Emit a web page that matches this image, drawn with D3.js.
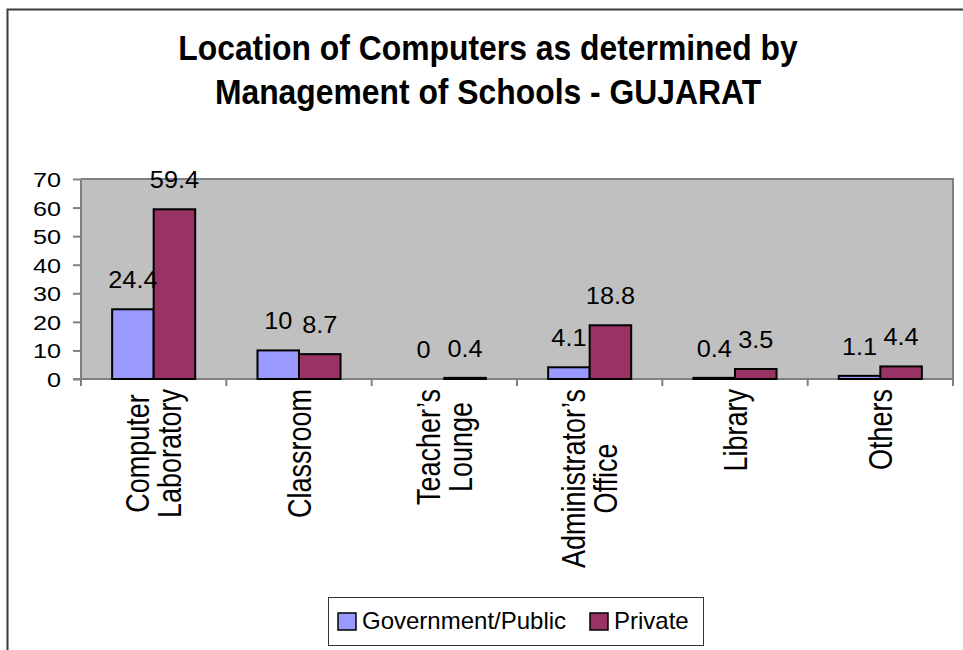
<!DOCTYPE html>
<html>
<head>
<meta charset="utf-8">
<script src="https://cdn.jsdelivr.net/npm/d3@7"></script>
<style>
  html, body { margin: 0; padding: 0; background: #fff; }
  svg { display: block; }
  text { font-family: "Liberation Sans", Arial, sans-serif; fill: #000; }
</style>
</head>
<body>
<svg id="chart" width="963" height="650"></svg>
<script>
// Chart data
const titleLines = ["Location of Computers as determined by", "Management of Schools - GUJARAT"];
const categories = ["Computer Laboratory", "Classroom", "Teacher\u2019s Lounge", "Administrator\u2019s Office", "Library", "Others"];
const categoryLines = [["Computer", "Laboratory"], ["Classroom"], ["Teacher\u2019s", "Lounge"], ["Administrator\u2019s", "Office"], ["Library"], ["Others"]];
const seriesNames = ["Government/Public", "Private"];
const governmentValues = [24.4, 10, 0, 4.1, 0.4, 1.1];
const privateValues = [59.4, 8.7, 0.4, 18.8, 3.5, 4.4];
const yTicks = [0, 10, 20, 30, 40, 50, 60, 70];
const seriesColors = ["#9999ff", "#993366"];

const seriesValues = [governmentValues, privateValues];
const rows = categories.map((c, i) => ({ cat: c, values: seriesValues.map((s, j) => ({ key: seriesNames[j], idx: j, v: s[i] })) }));

// Body text is drawn slightly wide, the title slightly narrow
const wide = 1.2;

const svg = d3.select("#chart");

// Outer chart frame (runs past the page edge on the right and bottom)
svg.append("rect")
  .attr("x", 7.5).attr("y", 9.5).attr("width", 1100).attr("height", 800)
  .attr("fill", "#fff").attr("stroke", "#3a3a3a").attr("stroke-width", 2);

// Title
const titleCx = 488, titleSx = 0.885;
titleLines.forEach((t, i) => {
  svg.append("text")
    .attr("text-anchor", "middle")
    .attr("transform", `translate(${titleCx},${60 + i * 44}) scale(${titleSx},1)`)
    .style("font-weight", "bold").style("font-size", "36px")
    .text(t);
});

const plot = { left: 81, right: 953, top: 179, bottom: 379 };

const x0 = d3.scaleBand().domain(categories).range([plot.left, plot.right]).paddingInner(0).paddingOuter(0);
const x1 = d3.scaleBand().domain(seriesNames).range([0, x0.bandwidth()]).paddingInner(0).paddingOuter(0.75);
const y = d3.scaleLinear().domain([0, 70]).range([plot.bottom, plot.top]);

// Plot area
svg.append("rect")
  .attr("x", plot.left).attr("y", plot.top)
  .attr("width", plot.right - plot.left).attr("height", plot.bottom - plot.top)
  .attr("fill", "#c0c0c0");
svg.append("path")
  .attr("d", `M${plot.left},${plot.top}H${plot.right}V${plot.bottom}`)
  .attr("fill", "none").attr("stroke", "#808080").attr("stroke-width", 2);

// Y axis
const yAxis = svg.append("g")
  .attr("transform", `translate(${plot.left},0)`)
  .call(d3.axisLeft(y).tickValues(yTicks).tickSize(8).tickPadding(12).tickSizeOuter(0));
yAxis.select(".domain").attr("stroke", "#808080").attr("stroke-width", 2)
  .attr("d", `M0,${plot.top}V${plot.bottom + 7}`);
yAxis.selectAll(".tick line").attr("stroke", "#808080").attr("stroke-width", 2);
yAxis.selectAll(".tick text")
  .style("font-size", "21px").style("font-family", "'Liberation Sans', Arial, sans-serif")
  .attr("fill", "#000").attr("dy", "0.36em")
  .attr("x", -20 / wide)
  .attr("transform", `scale(${wide},1)`);

// X axis line and category separators
svg.append("line")
  .attr("x1", plot.left - 8).attr("x2", plot.right)
  .attr("y1", plot.bottom).attr("y2", plot.bottom)
  .attr("stroke", "#808080").attr("stroke-width", 2);
const bounds = categories.map(c => x0(c)).concat([x0(categories[categories.length - 1]) + x0.bandwidth()]);
svg.selectAll(".xtick").data(bounds).join("line")
  .attr("class", "xtick")
  .attr("x1", d => d).attr("x2", d => d)
  .attr("y1", plot.bottom).attr("y2", plot.bottom + 7)
  .attr("stroke", "#808080").attr("stroke-width", 2);

// Bars
const groups = svg.selectAll(".grp").data(rows).join("g")
  .attr("class", "grp")
  .attr("transform", d => `translate(${x0(d.cat)},0)`);

groups.selectAll("rect").data(d => d.values).join("rect")
  .attr("x", d => x1(d.key))
  .attr("y", d => y(d.v))
  .attr("width", x1.bandwidth())
  .attr("height", d => y(0) - y(d.v))
  .attr("fill", d => seriesColors[d.idx])
  .attr("stroke", d => d.v === 0 ? "none" : "#000")
  .attr("stroke-width", 2);

// Value labels
groups.selectAll("text").data(d => d.values).join("text")
  .attr("text-anchor", "middle")
  .attr("transform", d => `translate(${x1(d.key) + x1.bandwidth() / 2},${y(d.v) - 21}) scale(1.1,1)`)
  .style("font-size", "23px")
  .text(d => d3.format("~g")(d.v));

// Rotated category labels; each block ends just below the axis, lines centred within it
const lineGap = 32, labelSize = 27, capH = 0.716 * labelSize;
categories.forEach((c, i) => {
  const lines = categoryLines[i];
  const cx = x0(c) + x0.bandwidth() / 2;
  const g = svg.append("g");
  const texts = lines.map(l => g.append("text")
    .attr("text-anchor", "middle")
    .style("font-size", labelSize + "px")
    .text(l));
  const maxLen = d3.max(texts, t => t.node().getComputedTextLength());
  const cy = plot.bottom + 10 + maxLen / 2;
  texts.forEach((t, k) => {
    const off = (k - (lines.length - 1) / 2) * lineGap;
    t.attr("transform", `translate(${cx + off + capH * wide / 2},${cy}) rotate(-90) scale(1,${wide})`);
  });
});

// Legend
const legend = svg.append("g");
legend.append("rect")
  .attr("x", 328.5).attr("y", 597.5).attr("width", 375).attr("height", 48)
  .attr("fill", "#fff").attr("stroke", "#333").attr("stroke-width", 1);
const legendItems = [{ name: seriesNames[0], color: seriesColors[0], x: 338 }, { name: seriesNames[1], color: seriesColors[1], x: 590 }];
legendItems.forEach(it => {
  legend.append("rect")
    .attr("x", it.x).attr("y", 613).attr("width", 18).attr("height", 17)
    .attr("fill", it.color).attr("stroke", "#000").attr("stroke-width", 1.5);
  legend.append("text")
    .attr("x", it.x + 24).attr("y", 629)
    .style("font-size", "24px")
    .text(it.name);
});
</script>
</body>
</html>
